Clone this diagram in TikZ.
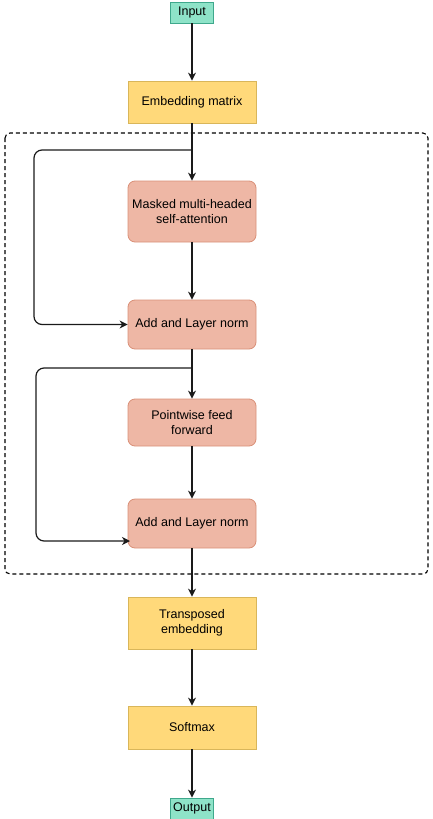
\documentclass[tikz,border=0pt]{standalone}
\usepackage{fontspec}
\setmainfont{Liberation Sans}
\usetikzlibrary{arrows.meta}
\definecolor{tealfill}{HTML}{8EE3C8}
\definecolor{tealdraw}{HTML}{3FA88C}
\definecolor{yelfill}{HTML}{FFD97A}
\definecolor{yeldraw}{HTML}{D9B65A}
\definecolor{salfill}{HTML}{EEB7A5}
\definecolor{saldraw}{HTML}{D99078}
\definecolor{linecol}{HTML}{1A1A1A}
\begin{document}
\begin{tikzpicture}[x=1pt,y=-1pt,
  txt/.style={font=\fontsize{12.5}{15}\selectfont, text=black, align=center, inner sep=0pt},
  iobox/.style={txt, draw=tealdraw, fill=tealfill, line width=0.8pt, minimum width=43pt, minimum height=21pt},
  ybox/.style={txt, draw=yeldraw, fill=yelfill, line width=0.8pt, minimum width=128pt},
  sbox/.style={txt, draw=saldraw, fill=salfill, line width=0.8pt, minimum width=128pt, rounded corners=7pt},
  conn/.style={draw=linecol, line width=1.2pt, -{Stealth[length=8pt,width=8pt,inset=2.5pt]}},
  skip/.style={conn, rounded corners=8pt}
]
\useasboundingbox (0,0) rectangle (432,819);
\draw[draw=black, line width=1.1pt, dash pattern=on 4pt off 3pt, rounded corners=5pt] (5,133) rectangle (428,574);
\node[iobox] (in) at (192,12.5) {Input};
\node[ybox, minimum height=42pt] (emb) at (192,102) {Embedding matrix};
\node[sbox, minimum height=61pt] (mha) at (192,211.5) {Masked multi-headed\\self-attention};
\node[sbox, minimum height=49pt] (add1) at (192,324.5) {Add and Layer norm};
\node[sbox, minimum height=47pt] (ff) at (192,422.5) {Pointwise feed\\forward};
\node[sbox, minimum height=49pt] (add2) at (192,523.5) {Add and Layer norm};
\node[ybox, minimum height=52pt] (tr) at (192,623) {Transposed\\embedding};
\node[ybox, minimum height=43pt] (sm) at (192,727.5) {Softmax};
\node[iobox] (out) at (192,808.5) {Output};
\coordinate (b1) at (192,150);
\coordinate (b2) at (192,368);
\coordinate (e2) at (130,541);
\draw[conn] (in) -- (emb);
\draw[conn] (emb) -- (mha);
\draw[conn] (mha) -- (add1);
\draw[conn] (add1) -- (ff);
\draw[conn] (ff) -- (add2);
\draw[conn] (add2) -- (tr);
\draw[conn] (tr) -- (sm);
\draw[conn] (sm) -- (out);
\draw[skip] (b1) -- (34,150) -- (34,324.5) -- (add1.west);
\draw[skip] (b2) -- (36,368) -- (36,541) -- (e2);
\end{tikzpicture}
\end{document}
